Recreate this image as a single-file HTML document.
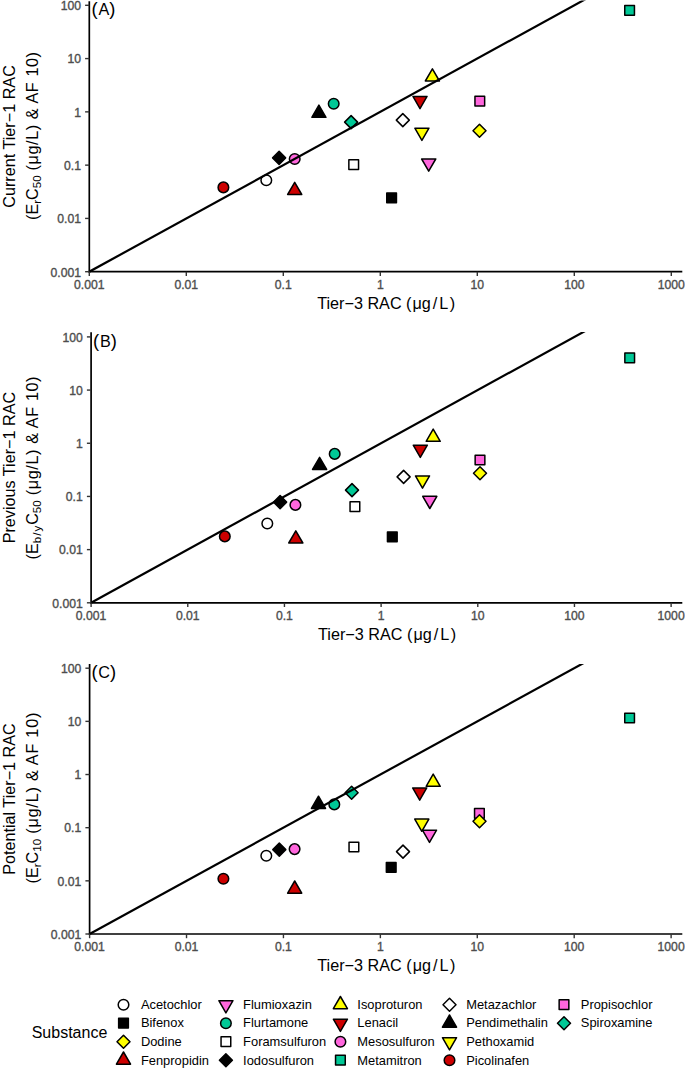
<!DOCTYPE html><html><head><meta charset="utf-8"><style>html,body{margin:0;padding:0;background:#fff;}svg{display:block;}text{font-family:"Liberation Sans", sans-serif;}.tk{stroke:#4d4d4d;stroke-width:0.35px;}</style></head><body>
<svg width="685" height="1069" viewBox="0 0 685 1069">
<rect width="685" height="1069" fill="#fff"/>
<circle cx="266.3" cy="180.2" r="5.3" fill="#ffffff" stroke="#000" stroke-width="1.5" stroke-linejoin="round"/>
<rect x="386.75" y="192.95" width="9.7" height="9.7" fill="#000000" stroke="#000" stroke-width="1.5" stroke-linejoin="round"/>
<path d="M294.7 182.3L301.75 194.5L287.65 194.5Z" fill="#cd0000" stroke="#000" stroke-width="1.5" stroke-linejoin="round"/>
<circle cx="333.7" cy="103.8" r="5.3" fill="#00c896" stroke="#000" stroke-width="1.5" stroke-linejoin="round"/>
<rect x="348.85" y="159.85" width="9.7" height="9.7" fill="#ffffff" stroke="#000" stroke-width="1.5" stroke-linejoin="round"/>
<path d="M279.1 151.4L285.6 157.9L279.1 164.4L272.6 157.9Z" fill="#000000" stroke="#000" stroke-width="1.5" stroke-linejoin="round"/>
<path d="M432.4 68.8L439.45 81L425.35 81Z" fill="#ffff00" stroke="#000" stroke-width="1.5" stroke-linejoin="round"/>
<path d="M420 108.6L427.05 96.4L412.95 96.4Z" fill="#cd0000" stroke="#000" stroke-width="1.5" stroke-linejoin="round"/>
<circle cx="294.7" cy="159" r="5.3" fill="#ff66dd" stroke="#000" stroke-width="1.5" stroke-linejoin="round"/>
<rect x="624.75" y="5.55" width="9.7" height="9.7" fill="#00c896" stroke="#000" stroke-width="1.5" stroke-linejoin="round"/>
<path d="M402.8 113.6L409.3 120.1L402.8 126.6L396.3 120.1Z" fill="#ffffff" stroke="#000" stroke-width="1.5" stroke-linejoin="round"/>
<path d="M318.9 105.1L325.95 117.3L311.85 117.3Z" fill="#000000" stroke="#000" stroke-width="1.5" stroke-linejoin="round"/>
<path d="M421.9 140.4L428.95 128.2L414.85 128.2Z" fill="#ffff00" stroke="#000" stroke-width="1.5" stroke-linejoin="round"/>
<circle cx="223.4" cy="187.4" r="5.3" fill="#cd0000" stroke="#000" stroke-width="1.5" stroke-linejoin="round"/>
<rect x="474.95" y="96.25" width="9.7" height="9.7" fill="#ff66dd" stroke="#000" stroke-width="1.5" stroke-linejoin="round"/>
<path d="M351.1 115.6L357.6 122.1L351.1 128.6L344.6 122.1Z" fill="#00c896" stroke="#000" stroke-width="1.5" stroke-linejoin="round"/>
<path d="M479.5 124.2L486 130.7L479.5 137.2L473 130.7Z" fill="#ffff00" stroke="#000" stroke-width="1.5" stroke-linejoin="round"/>
<path d="M428.7 171.2L435.75 159L421.65 159Z" fill="#ff66dd" stroke="#000" stroke-width="1.5" stroke-linejoin="round"/>
<clipPath id="cA"><rect x="89.3" y="0.4" width="593" height="274.3"/></clipPath>
<line clip-path="url(#cA)" x1="89.3" y1="271.7" x2="590.5" y2="-3.6" stroke="#000" stroke-width="2.2"/>
<line x1="89.3" y1="1.2" x2="89.3" y2="272.55" stroke="#000" stroke-width="1.7"/>
<line x1="88.45" y1="271.7" x2="682.3" y2="271.7" stroke="#000" stroke-width="1.7"/>
<line x1="85.1" y1="271.7" x2="89.3" y2="271.7" stroke="#333333" stroke-width="1.4"/>
<text x="81" y="276.5" font-size="12.2" fill="#4d4d4d" class="tk" text-anchor="end">0.001</text>
<line x1="85.1" y1="218.42" x2="89.3" y2="218.42" stroke="#333333" stroke-width="1.4"/>
<text x="81" y="223.22" font-size="12.2" fill="#4d4d4d" class="tk" text-anchor="end">0.01</text>
<line x1="85.1" y1="165.14" x2="89.3" y2="165.14" stroke="#333333" stroke-width="1.4"/>
<text x="81" y="169.94" font-size="12.2" fill="#4d4d4d" class="tk" text-anchor="end">0.1</text>
<line x1="85.1" y1="111.86" x2="89.3" y2="111.86" stroke="#333333" stroke-width="1.4"/>
<text x="81" y="116.66" font-size="12.2" fill="#4d4d4d" class="tk" text-anchor="end">1</text>
<line x1="85.1" y1="58.58" x2="89.3" y2="58.58" stroke="#333333" stroke-width="1.4"/>
<text x="81" y="63.38" font-size="12.2" fill="#4d4d4d" class="tk" text-anchor="end">10</text>
<line x1="85.1" y1="5.3" x2="89.3" y2="5.3" stroke="#333333" stroke-width="1.4"/>
<text x="81" y="10.1" font-size="12.2" fill="#4d4d4d" class="tk" text-anchor="end">100</text>
<line x1="89.3" y1="271.7" x2="89.3" y2="275.9" stroke="#333333" stroke-width="1.4"/>
<text x="89.3" y="288.5" font-size="12.2" fill="#4d4d4d" class="tk" text-anchor="middle">0.001</text>
<line x1="186.3" y1="271.7" x2="186.3" y2="275.9" stroke="#333333" stroke-width="1.4"/>
<text x="186.3" y="288.5" font-size="12.2" fill="#4d4d4d" class="tk" text-anchor="middle">0.01</text>
<line x1="283.3" y1="271.7" x2="283.3" y2="275.9" stroke="#333333" stroke-width="1.4"/>
<text x="283.3" y="288.5" font-size="12.2" fill="#4d4d4d" class="tk" text-anchor="middle">0.1</text>
<line x1="380.3" y1="271.7" x2="380.3" y2="275.9" stroke="#333333" stroke-width="1.4"/>
<text x="380.3" y="288.5" font-size="12.2" fill="#4d4d4d" class="tk" text-anchor="middle">1</text>
<line x1="477.3" y1="271.7" x2="477.3" y2="275.9" stroke="#333333" stroke-width="1.4"/>
<text x="477.3" y="288.5" font-size="12.2" fill="#4d4d4d" class="tk" text-anchor="middle">10</text>
<line x1="574.3" y1="271.7" x2="574.3" y2="275.9" stroke="#333333" stroke-width="1.4"/>
<text x="574.3" y="288.5" font-size="12.2" fill="#4d4d4d" class="tk" text-anchor="middle">100</text>
<line x1="671.3" y1="271.7" x2="671.3" y2="275.9" stroke="#333333" stroke-width="1.4"/>
<text x="671.3" y="288.5" font-size="12.2" fill="#4d4d4d" class="tk" text-anchor="middle">1000</text>
<text x="91.6" y="15" font-size="18.4" fill="#000">(<tspan font-size="16.2" dx="0.8">A</tspan>)</text>
<text x="317.19" y="308.9" font-size="16.2" fill="#000">Tier−3 RAC (<tspan dx="1">μ</tspan>g<tspan dx="2">/</tspan><tspan dx="2">L</tspan><tspan dx="1.5">)</tspan></text>
<text transform="translate(14.8 136.45) rotate(-90)" font-size="16.2" fill="#000" text-anchor="middle">Current Tier−1 RAC</text>
<text transform="translate(37.6 220) rotate(-90)" font-size="16.2" fill="#000">(E<tspan font-size="11.5" dy="3.6" letter-spacing="0">r</tspan><tspan dy="-3.6">C</tspan><tspan font-size="11.5" dy="3.6">50</tspan><tspan dy="-3.6" letter-spacing="0.59"> (μg/L) &amp; AF 10)</tspan></text>
<circle cx="267.3" cy="523.5" r="5.3" fill="#ffffff" stroke="#000" stroke-width="1.5" stroke-linejoin="round"/>
<rect x="387.45" y="531.95" width="9.7" height="9.7" fill="#000000" stroke="#000" stroke-width="1.5" stroke-linejoin="round"/>
<path d="M295.8 530.8L302.85 543L288.75 543Z" fill="#cd0000" stroke="#000" stroke-width="1.5" stroke-linejoin="round"/>
<circle cx="334.7" cy="453.9" r="5.3" fill="#00c896" stroke="#000" stroke-width="1.5" stroke-linejoin="round"/>
<rect x="350.05" y="501.85" width="9.7" height="9.7" fill="#ffffff" stroke="#000" stroke-width="1.5" stroke-linejoin="round"/>
<path d="M280.1 495.6L286.6 502.1L280.1 508.6L273.6 502.1Z" fill="#000000" stroke="#000" stroke-width="1.5" stroke-linejoin="round"/>
<path d="M433.2 429.1L440.25 441.3L426.15 441.3Z" fill="#ffff00" stroke="#000" stroke-width="1.5" stroke-linejoin="round"/>
<path d="M420.3 457.4L427.35 445.2L413.25 445.2Z" fill="#cd0000" stroke="#000" stroke-width="1.5" stroke-linejoin="round"/>
<circle cx="295.4" cy="504.9" r="5.3" fill="#ff66dd" stroke="#000" stroke-width="1.5" stroke-linejoin="round"/>
<rect x="624.85" y="352.95" width="9.7" height="9.7" fill="#00c896" stroke="#000" stroke-width="1.5" stroke-linejoin="round"/>
<path d="M403.6 470.4L410.1 476.9L403.6 483.4L397.1 476.9Z" fill="#ffffff" stroke="#000" stroke-width="1.5" stroke-linejoin="round"/>
<path d="M319.6 457.3L326.65 469.5L312.55 469.5Z" fill="#000000" stroke="#000" stroke-width="1.5" stroke-linejoin="round"/>
<path d="M422.5 488.1L429.55 475.9L415.45 475.9Z" fill="#ffff00" stroke="#000" stroke-width="1.5" stroke-linejoin="round"/>
<circle cx="224.8" cy="536.4" r="5.3" fill="#cd0000" stroke="#000" stroke-width="1.5" stroke-linejoin="round"/>
<rect x="475.15" y="455.15" width="9.7" height="9.7" fill="#ff66dd" stroke="#000" stroke-width="1.5" stroke-linejoin="round"/>
<path d="M352 483.6L358.5 490.1L352 496.6L345.5 490.1Z" fill="#00c896" stroke="#000" stroke-width="1.5" stroke-linejoin="round"/>
<path d="M480 466.7L486.5 473.2L480 479.7L473.5 473.2Z" fill="#ffff00" stroke="#000" stroke-width="1.5" stroke-linejoin="round"/>
<path d="M429.8 508.5L436.85 496.3L422.75 496.3Z" fill="#ff66dd" stroke="#000" stroke-width="1.5" stroke-linejoin="round"/>
<clipPath id="cB"><rect x="91.1" y="332" width="591.2" height="273.8"/></clipPath>
<line clip-path="url(#cB)" x1="91.1" y1="602.8" x2="590.63" y2="328" stroke="#000" stroke-width="2.2"/>
<line x1="91.1" y1="332.3" x2="91.1" y2="603.65" stroke="#000" stroke-width="1.7"/>
<line x1="90.25" y1="602.8" x2="682.3" y2="602.8" stroke="#000" stroke-width="1.7"/>
<line x1="86.9" y1="602.8" x2="91.1" y2="602.8" stroke="#333333" stroke-width="1.4"/>
<text x="82.8" y="607.6" font-size="12.2" fill="#4d4d4d" class="tk" text-anchor="end">0.001</text>
<line x1="86.9" y1="549.62" x2="91.1" y2="549.62" stroke="#333333" stroke-width="1.4"/>
<text x="82.8" y="554.42" font-size="12.2" fill="#4d4d4d" class="tk" text-anchor="end">0.01</text>
<line x1="86.9" y1="496.44" x2="91.1" y2="496.44" stroke="#333333" stroke-width="1.4"/>
<text x="82.8" y="501.24" font-size="12.2" fill="#4d4d4d" class="tk" text-anchor="end">0.1</text>
<line x1="86.9" y1="443.26" x2="91.1" y2="443.26" stroke="#333333" stroke-width="1.4"/>
<text x="82.8" y="448.06" font-size="12.2" fill="#4d4d4d" class="tk" text-anchor="end">1</text>
<line x1="86.9" y1="390.08" x2="91.1" y2="390.08" stroke="#333333" stroke-width="1.4"/>
<text x="82.8" y="394.88" font-size="12.2" fill="#4d4d4d" class="tk" text-anchor="end">10</text>
<line x1="86.9" y1="336.9" x2="91.1" y2="336.9" stroke="#333333" stroke-width="1.4"/>
<text x="82.8" y="341.7" font-size="12.2" fill="#4d4d4d" class="tk" text-anchor="end">100</text>
<line x1="91.1" y1="602.8" x2="91.1" y2="607" stroke="#333333" stroke-width="1.4"/>
<text x="91.1" y="619.6" font-size="12.2" fill="#4d4d4d" class="tk" text-anchor="middle">0.001</text>
<line x1="187.77" y1="602.8" x2="187.77" y2="607" stroke="#333333" stroke-width="1.4"/>
<text x="187.77" y="619.6" font-size="12.2" fill="#4d4d4d" class="tk" text-anchor="middle">0.01</text>
<line x1="284.44" y1="602.8" x2="284.44" y2="607" stroke="#333333" stroke-width="1.4"/>
<text x="284.44" y="619.6" font-size="12.2" fill="#4d4d4d" class="tk" text-anchor="middle">0.1</text>
<line x1="381.11" y1="602.8" x2="381.11" y2="607" stroke="#333333" stroke-width="1.4"/>
<text x="381.11" y="619.6" font-size="12.2" fill="#4d4d4d" class="tk" text-anchor="middle">1</text>
<line x1="477.78" y1="602.8" x2="477.78" y2="607" stroke="#333333" stroke-width="1.4"/>
<text x="477.78" y="619.6" font-size="12.2" fill="#4d4d4d" class="tk" text-anchor="middle">10</text>
<line x1="574.45" y1="602.8" x2="574.45" y2="607" stroke="#333333" stroke-width="1.4"/>
<text x="574.45" y="619.6" font-size="12.2" fill="#4d4d4d" class="tk" text-anchor="middle">100</text>
<line x1="671.12" y1="602.8" x2="671.12" y2="607" stroke="#333333" stroke-width="1.4"/>
<text x="671.12" y="619.6" font-size="12.2" fill="#4d4d4d" class="tk" text-anchor="middle">1000</text>
<text x="93.1" y="346.6" font-size="18.4" fill="#000">(<tspan font-size="16.2" dx="0.8">B</tspan>)</text>
<text x="318.09" y="640" font-size="16.2" fill="#000">Tier−3 RAC (<tspan dx="1">μ</tspan>g<tspan dx="2">/</tspan><tspan dx="2">L</tspan><tspan dx="1.5">)</tspan></text>
<text transform="translate(14.8 467.55) rotate(-90)" font-size="16.2" fill="#000" text-anchor="middle">Previous Tier−1 RAC</text>
<text transform="translate(37.6 559.4) rotate(-90)" font-size="16.2" fill="#000">(E<tspan font-size="11.5" dy="3.6" letter-spacing="1">b/y</tspan><tspan dy="-3.6">C</tspan><tspan font-size="11.5" dy="3.6">50</tspan><tspan dy="-3.6" letter-spacing="0.62"> (μg/L) &amp; AF 10)</tspan></text>
<circle cx="266.3" cy="855.8" r="5.3" fill="#ffffff" stroke="#000" stroke-width="1.5" stroke-linejoin="round"/>
<rect x="386.35" y="862.55" width="9.7" height="9.7" fill="#000000" stroke="#000" stroke-width="1.5" stroke-linejoin="round"/>
<path d="M294.7 881L301.75 893.2L287.65 893.2Z" fill="#cd0000" stroke="#000" stroke-width="1.5" stroke-linejoin="round"/>
<circle cx="334.3" cy="804.4" r="5.3" fill="#00c896" stroke="#000" stroke-width="1.5" stroke-linejoin="round"/>
<rect x="349.05" y="842.15" width="9.7" height="9.7" fill="#ffffff" stroke="#000" stroke-width="1.5" stroke-linejoin="round"/>
<path d="M279.3 843.1L285.8 849.6L279.3 856.1L272.8 849.6Z" fill="#000000" stroke="#000" stroke-width="1.5" stroke-linejoin="round"/>
<path d="M433.2 774.1L440.25 786.3L426.15 786.3Z" fill="#ffff00" stroke="#000" stroke-width="1.5" stroke-linejoin="round"/>
<path d="M419.7 800.1L426.75 787.9L412.65 787.9Z" fill="#cd0000" stroke="#000" stroke-width="1.5" stroke-linejoin="round"/>
<circle cx="294.6" cy="849.1" r="5.3" fill="#ff66dd" stroke="#000" stroke-width="1.5" stroke-linejoin="round"/>
<rect x="624.75" y="713.15" width="9.7" height="9.7" fill="#00c896" stroke="#000" stroke-width="1.5" stroke-linejoin="round"/>
<path d="M403 845.1L409.5 851.6L403 858.1L396.5 851.6Z" fill="#ffffff" stroke="#000" stroke-width="1.5" stroke-linejoin="round"/>
<path d="M318.5 796.2L325.55 808.4L311.45 808.4Z" fill="#000000" stroke="#000" stroke-width="1.5" stroke-linejoin="round"/>
<path d="M421.8 831.3L428.85 819.1L414.75 819.1Z" fill="#ffff00" stroke="#000" stroke-width="1.5" stroke-linejoin="round"/>
<circle cx="223.4" cy="878.8" r="5.3" fill="#cd0000" stroke="#000" stroke-width="1.5" stroke-linejoin="round"/>
<rect x="474.55" y="808.45" width="9.7" height="9.7" fill="#ff66dd" stroke="#000" stroke-width="1.5" stroke-linejoin="round"/>
<path d="M351.6 786.2L358.1 792.7L351.6 799.2L345.1 792.7Z" fill="#00c896" stroke="#000" stroke-width="1.5" stroke-linejoin="round"/>
<path d="M479.5 814.7L486 821.2L479.5 827.7L473 821.2Z" fill="#ffff00" stroke="#000" stroke-width="1.5" stroke-linejoin="round"/>
<path d="M429.5 842.4L436.55 830.2L422.45 830.2Z" fill="#ff66dd" stroke="#000" stroke-width="1.5" stroke-linejoin="round"/>
<clipPath id="cC"><rect x="89.6" y="664" width="592.7" height="273"/></clipPath>
<line clip-path="url(#cC)" x1="89.6" y1="934" x2="589.15" y2="660" stroke="#000" stroke-width="2.2"/>
<line x1="89.6" y1="664.1" x2="89.6" y2="934.85" stroke="#000" stroke-width="1.7"/>
<line x1="88.75" y1="934" x2="682.3" y2="934" stroke="#000" stroke-width="1.7"/>
<line x1="85.4" y1="934" x2="89.6" y2="934" stroke="#333333" stroke-width="1.4"/>
<text x="81.3" y="938.8" font-size="12.2" fill="#4d4d4d" class="tk" text-anchor="end">0.001</text>
<line x1="85.4" y1="880.84" x2="89.6" y2="880.84" stroke="#333333" stroke-width="1.4"/>
<text x="81.3" y="885.64" font-size="12.2" fill="#4d4d4d" class="tk" text-anchor="end">0.01</text>
<line x1="85.4" y1="827.68" x2="89.6" y2="827.68" stroke="#333333" stroke-width="1.4"/>
<text x="81.3" y="832.48" font-size="12.2" fill="#4d4d4d" class="tk" text-anchor="end">0.1</text>
<line x1="85.4" y1="774.52" x2="89.6" y2="774.52" stroke="#333333" stroke-width="1.4"/>
<text x="81.3" y="779.32" font-size="12.2" fill="#4d4d4d" class="tk" text-anchor="end">1</text>
<line x1="85.4" y1="721.36" x2="89.6" y2="721.36" stroke="#333333" stroke-width="1.4"/>
<text x="81.3" y="726.16" font-size="12.2" fill="#4d4d4d" class="tk" text-anchor="end">10</text>
<line x1="85.4" y1="668.2" x2="89.6" y2="668.2" stroke="#333333" stroke-width="1.4"/>
<text x="81.3" y="673" font-size="12.2" fill="#4d4d4d" class="tk" text-anchor="end">100</text>
<line x1="89.6" y1="934" x2="89.6" y2="938.2" stroke="#333333" stroke-width="1.4"/>
<text x="89.6" y="950.8" font-size="12.2" fill="#4d4d4d" class="tk" text-anchor="middle">0.001</text>
<line x1="186.52" y1="934" x2="186.52" y2="938.2" stroke="#333333" stroke-width="1.4"/>
<text x="186.52" y="950.8" font-size="12.2" fill="#4d4d4d" class="tk" text-anchor="middle">0.01</text>
<line x1="283.44" y1="934" x2="283.44" y2="938.2" stroke="#333333" stroke-width="1.4"/>
<text x="283.44" y="950.8" font-size="12.2" fill="#4d4d4d" class="tk" text-anchor="middle">0.1</text>
<line x1="380.36" y1="934" x2="380.36" y2="938.2" stroke="#333333" stroke-width="1.4"/>
<text x="380.36" y="950.8" font-size="12.2" fill="#4d4d4d" class="tk" text-anchor="middle">1</text>
<line x1="477.28" y1="934" x2="477.28" y2="938.2" stroke="#333333" stroke-width="1.4"/>
<text x="477.28" y="950.8" font-size="12.2" fill="#4d4d4d" class="tk" text-anchor="middle">10</text>
<line x1="574.2" y1="934" x2="574.2" y2="938.2" stroke="#333333" stroke-width="1.4"/>
<text x="574.2" y="950.8" font-size="12.2" fill="#4d4d4d" class="tk" text-anchor="middle">100</text>
<line x1="671.12" y1="934" x2="671.12" y2="938.2" stroke="#333333" stroke-width="1.4"/>
<text x="671.12" y="950.8" font-size="12.2" fill="#4d4d4d" class="tk" text-anchor="middle">1000</text>
<text x="91.4" y="678.1" font-size="18.4" fill="#000">(<tspan font-size="16.2" dx="0.8">C</tspan>)</text>
<text x="317.34" y="971.2" font-size="16.2" fill="#000">Tier−3 RAC (<tspan dx="1">μ</tspan>g<tspan dx="2">/</tspan><tspan dx="2">L</tspan><tspan dx="1.5">)</tspan></text>
<text transform="translate(14.8 799.05) rotate(-90)" font-size="16.2" fill="#000" text-anchor="middle">Potential Tier−1 RAC</text>
<text transform="translate(37.6 883.5) rotate(-90)" font-size="16.2" fill="#000">(E<tspan font-size="11.5" dy="3.6" letter-spacing="0">r</tspan><tspan dy="-3.6">C</tspan><tspan font-size="11.5" dy="3.6">10</tspan><tspan dy="-3.6" letter-spacing="0.78"> (μg/L) &amp; AF 10)</tspan></text>
<text x="31.7" y="1037.8" font-size="16" fill="#000">Substance</text>
<circle cx="123.5" cy="1004.7" r="5.3" fill="#ffffff" stroke="#000" stroke-width="1.5" stroke-linejoin="round"/>
<text x="140.9" y="1008.5" font-size="12.9" fill="#000">Acetochlor</text>
<rect x="118.65" y="1018.35" width="9.7" height="9.7" fill="#000000" stroke="#000" stroke-width="1.5" stroke-linejoin="round"/>
<text x="140.9" y="1027.4" font-size="12.9" fill="#000">Bifenox</text>
<path d="M123.5 1035.2L130 1041.7L123.5 1048.2L117 1041.7Z" fill="#ffff00" stroke="#000" stroke-width="1.5" stroke-linejoin="round"/>
<text x="140.9" y="1045.9" font-size="12.9" fill="#000">Dodine</text>
<path d="M123.5 1052L130.55 1064.2L116.45 1064.2Z" fill="#cd0000" stroke="#000" stroke-width="1.5" stroke-linejoin="round"/>
<text x="140.9" y="1064.9" font-size="12.9" fill="#000">Fenpropidin</text>
<path d="M225.9 1012.9L232.95 1000.7L218.85 1000.7Z" fill="#ff66dd" stroke="#000" stroke-width="1.5" stroke-linejoin="round"/>
<text x="243.1" y="1008.5" font-size="12.9" fill="#000">Flumioxazin</text>
<circle cx="225.9" cy="1023.2" r="5.3" fill="#00c896" stroke="#000" stroke-width="1.5" stroke-linejoin="round"/>
<text x="243.1" y="1027.4" font-size="12.9" fill="#000">Flurtamone</text>
<rect x="221.05" y="1036.85" width="9.7" height="9.7" fill="#ffffff" stroke="#000" stroke-width="1.5" stroke-linejoin="round"/>
<text x="243.1" y="1045.9" font-size="12.9" fill="#000">Foramsulfuron</text>
<path d="M225.9 1053.7L232.4 1060.2L225.9 1066.7L219.4 1060.2Z" fill="#000000" stroke="#000" stroke-width="1.5" stroke-linejoin="round"/>
<text x="243.1" y="1064.9" font-size="12.9" fill="#000">Iodosulfuron</text>
<path d="M340.4 996.5L347.45 1008.7L333.35 1008.7Z" fill="#ffff00" stroke="#000" stroke-width="1.5" stroke-linejoin="round"/>
<text x="357.3" y="1008.5" font-size="12.9" fill="#000">Isoproturon</text>
<path d="M340.4 1031.4L347.45 1019.2L333.35 1019.2Z" fill="#cd0000" stroke="#000" stroke-width="1.5" stroke-linejoin="round"/>
<text x="357.3" y="1027.4" font-size="12.9" fill="#000">Lenacil</text>
<circle cx="340.4" cy="1041.7" r="5.3" fill="#ff66dd" stroke="#000" stroke-width="1.5" stroke-linejoin="round"/>
<text x="357.3" y="1045.9" font-size="12.9" fill="#000">Mesosulfuron</text>
<rect x="335.55" y="1055.35" width="9.7" height="9.7" fill="#00c896" stroke="#000" stroke-width="1.5" stroke-linejoin="round"/>
<text x="357.3" y="1064.9" font-size="12.9" fill="#000">Metamitron</text>
<path d="M449.5 998.2L456 1004.7L449.5 1011.2L443 1004.7Z" fill="#ffffff" stroke="#000" stroke-width="1.5" stroke-linejoin="round"/>
<text x="466.2" y="1008.5" font-size="12.9" fill="#000">Metazachlor</text>
<path d="M449.5 1015L456.55 1027.2L442.45 1027.2Z" fill="#000000" stroke="#000" stroke-width="1.5" stroke-linejoin="round"/>
<text x="466.2" y="1027.4" font-size="12.9" fill="#000">Pendimethalin</text>
<path d="M449.5 1049.9L456.55 1037.7L442.45 1037.7Z" fill="#ffff00" stroke="#000" stroke-width="1.5" stroke-linejoin="round"/>
<text x="466.2" y="1045.9" font-size="12.9" fill="#000">Pethoxamid</text>
<circle cx="449.5" cy="1060.2" r="5.3" fill="#cd0000" stroke="#000" stroke-width="1.5" stroke-linejoin="round"/>
<text x="466.2" y="1064.9" font-size="12.9" fill="#000">Picolinafen</text>
<rect x="559.15" y="999.85" width="9.7" height="9.7" fill="#ff66dd" stroke="#000" stroke-width="1.5" stroke-linejoin="round"/>
<text x="580.8" y="1008.5" font-size="12.9" fill="#000">Propisochlor</text>
<path d="M564 1016.7L570.5 1023.2L564 1029.7L557.5 1023.2Z" fill="#00c896" stroke="#000" stroke-width="1.5" stroke-linejoin="round"/>
<text x="580.8" y="1027.4" font-size="12.9" fill="#000">Spiroxamine</text>
</svg></body></html>
